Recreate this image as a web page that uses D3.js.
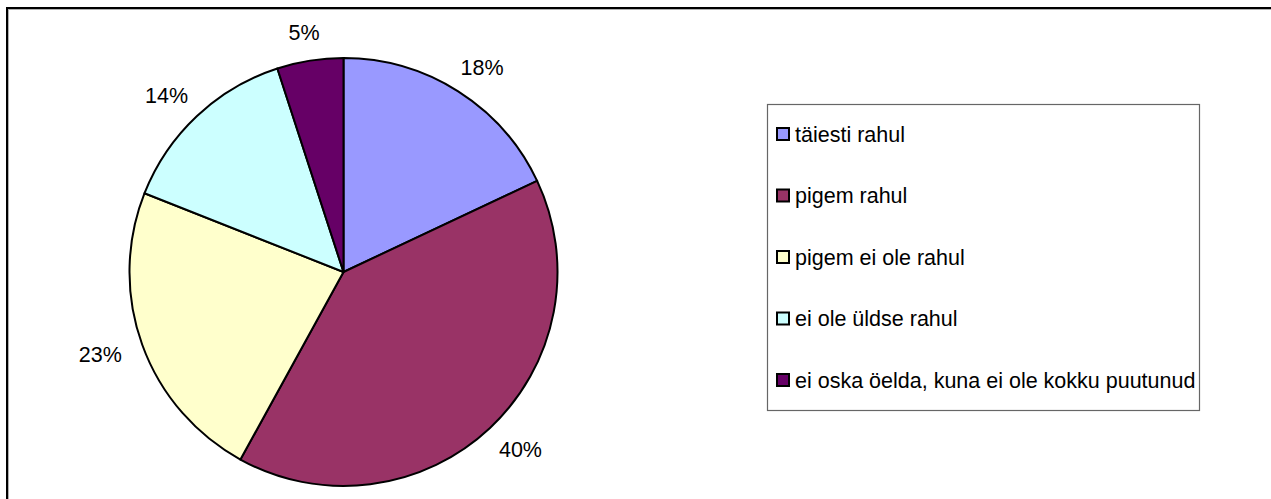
<!DOCTYPE html>
<html>
<head>
<meta charset="utf-8">
<script src="https://cdn.jsdelivr.net/npm/d3@7"></script>
<style>
  html, body { margin: 0; padding: 0; background: #fff; }
  svg { display: block; }
  text { font-family: "Liberation Sans", Arial, Helvetica, sans-serif; }
</style>
</head>
<body>
<svg id="chart" width="1271" height="499"></svg>
<script>
const categories = ["täiesti rahul", "pigem rahul", "pigem ei ole rahul", "ei ole üldse rahul", "ei oska öelda, kuna ei ole kokku puutunud"];
const values = [18, 40, 23, 14, 5];
const labels = ["18%", "40%", "23%", "14%", "5%"];
const colors = ["#9999FF", "#993366", "#FFFFCC", "#CCFFFF", "#660066"];

const svg = d3.select("#chart");
const FS = 21.5;

// outer chart-area border (extends beyond the picture on right/bottom)
svg.append("rect").attr("x", 8.5).attr("y", 9.5).attr("width", 1300).attr("height", 600)
  .attr("fill", "none").attr("stroke", "#b0b0b0").attr("stroke-width", 1);
svg.append("rect").attr("x", 7).attr("y", 8).attr("width", 1300).attr("height", 600)
  .attr("fill", "none").attr("stroke", "#000").attr("stroke-width", 2);

const cx = 343.5, cy = 272, r = 214;
const pie = d3.pie().sort(null).value(d => d)(values);
const arc = d3.arc().innerRadius(0).outerRadius(r);

const g = svg.append("g").attr("transform", `translate(${cx},${cy})`);
g.selectAll("path.slice").data(pie).enter().append("path")
  .attr("class", "slice")
  .attr("d", arc)
  .attr("fill", (d, i) => colors[i])
  .attr("stroke", "#000")
  .attr("stroke-width", 2)
  .attr("stroke-linejoin", "round");

// labels outside
const gap = 23, hh = 12;
g.selectAll("text.lbl").data(pie).enter().append("text")
  .attr("class", "lbl")
  .attr("font-size", FS)
  .attr("fill", "#000")
  .attr("text-anchor", "middle")
  .text((d, i) => labels[i])
  .each(function(d) {
    const w = this.getComputedTextLength();
    const a = (d.startAngle + d.endAngle) / 2;
    const ux = Math.sin(a), uy = -Math.cos(a);
    const x = (r + gap) * ux + ux * w / 2;
    const y = (r + gap) * uy + uy * hh / 2;
    d3.select(this).attr("x", x).attr("y", y + 8);
  });

// legend
const lx = 767.5, ly = 104.5, lw = 432, lh = 306;
svg.append("rect").attr("x", lx).attr("y", ly).attr("width", lw).attr("height", lh)
  .attr("fill", "#fff").attr("stroke", "#666").attr("stroke-width", 1.2);

const rowY = d3.scalePoint().domain(categories).range([134, 380]);
const leg = svg.append("g").selectAll("g").data(categories).enter().append("g")
  .attr("transform", d => `translate(0,${rowY(d)})`);
leg.append("rect").attr("x", 777).attr("y", -6).attr("width", 12).attr("height", 12)
  .attr("fill", (d, i) => colors[i]).attr("stroke", "#000").attr("stroke-width", 2);
leg.append("text").attr("x", 795).attr("y", 7.5).attr("font-size", FS).attr("fill", "#000")
  .text(d => d);
</script>
</body>
</html>
